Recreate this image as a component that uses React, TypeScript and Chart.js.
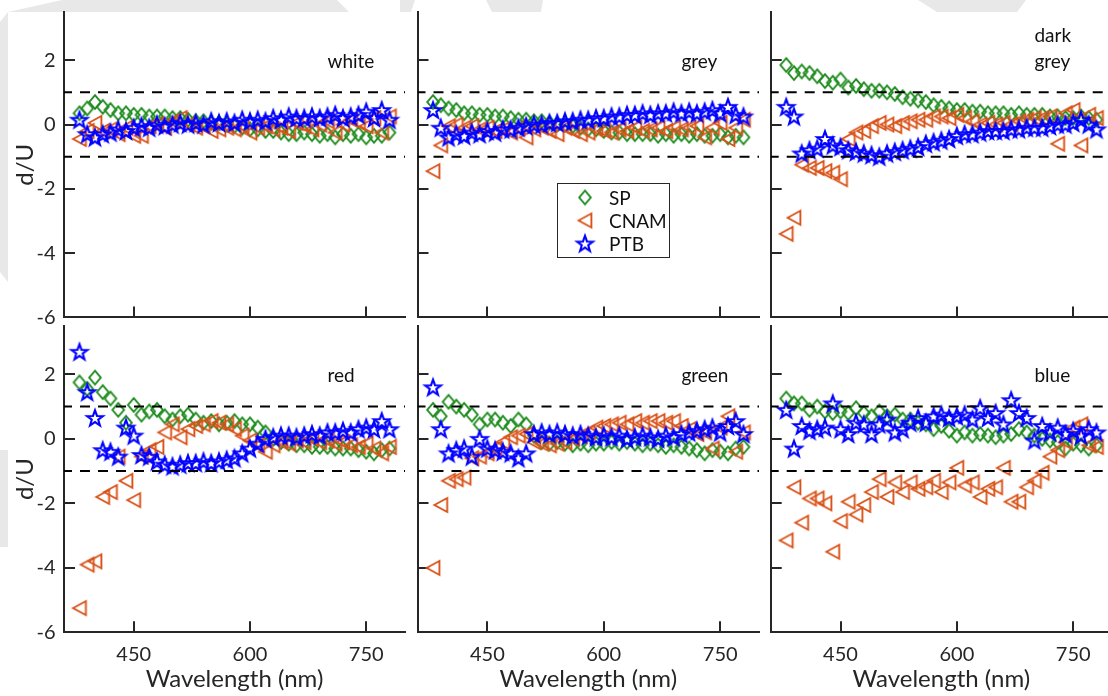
import React, { useEffect, useRef } from 'react';
import { Chart, registerables } from 'chart.js';

Chart.register(...registerables);

// ---------- data ----------
const wavelengths = [
  380, 390, 400, 410, 420, 430, 440, 450, 460, 470,
  480, 490, 500, 510, 520, 530, 540, 550, 560, 570,
  580, 590, 600, 610, 620, 630, 640, 650, 660, 670,
  680, 690, 700, 710, 720, 730, 740, 750, 760, 770,
  780,
];

const panelNames = [['white'], ['grey'], ['dark', 'grey'], ['red'], ['green'], ['blue']];
const seriesNames = ['SP', 'CNAM', 'PTB'];
const seriesColors = ['#1E8C1E', '#D95319', '#0000FF'];

const whiteSP = [0.35, 0.5, 0.7, 0.55, 0.45, 0.35, 0.35, 0.3, 0.3, 0.25, 0.25, 0.25, 0.2, 0.2, 0.15, 0.1, 0.1, 0.05, 0.05, 0.0, -0.05, -0.1, -0.15, -0.15, -0.2, -0.2, -0.25, -0.3, -0.3, -0.25, -0.3, -0.35, -0.3, -0.4, -0.3, -0.35, -0.3, -0.4, -0.35, -0.35, -0.25];
const whiteCNAM = [-0.45, -0.2, 0.05, -0.2, -0.15, -0.3, -0.1, -0.35, -0.35, -0.05, 0.0, -0.1, 0.1, 0.2, 0.0, -0.1, -0.05, -0.2, -0.15, -0.1, -0.15, -0.05, -0.25, -0.1, -0.05, -0.15, -0.1, -0.2, 0.05, -0.05, -0.15, 0.0, 0.1, -0.25, 0.0, 0.15, 0.05, -0.05, 0.2, -0.25, 0.25];
const whitePTB = [0.15, -0.3, -0.4, -0.3, -0.25, -0.15, -0.2, -0.1, -0.05, -0.1, 0.0, -0.05, 0.0, 0.05, 0.0, 0.05, 0.0, 0.1, 0.05, 0.1, 0.05, 0.15, 0.1, 0.15, 0.1, 0.2, 0.15, 0.25, 0.2, 0.2, 0.25, 0.2, 0.25, 0.3, 0.2, 0.25, 0.3, 0.4, 0.2, 0.45, 0.15];

const greySP = [0.7, 0.6, 0.5, 0.45, 0.35, 0.35, 0.3, 0.3, 0.25, 0.25, 0.2, 0.15, 0.15, 0.1, 0.1, 0.05, 0.0, 0.0, -0.05, -0.1, -0.15, -0.15, -0.2, -0.25, -0.25, -0.3, -0.3, -0.3, -0.3, -0.35, -0.3, -0.35, -0.3, -0.35, -0.3, -0.35, -0.35, -0.3, -0.4, -0.35, -0.4];
const greyCNAM = [-1.45, -0.65, -0.05, 0.0, -0.1, -0.05, -0.15, -0.1, -0.2, -0.15, -0.25, -0.1, -0.4, -0.15, -0.1, -0.2, -0.3, -0.1, -0.2, -0.3, -0.25, -0.15, -0.2, -0.25, -0.15, -0.2, -0.1, -0.2, -0.15, -0.1, -0.2, -0.1, -0.15, -0.1, -0.05, -0.4, -0.1, 0.05, -0.45, -0.1, 0.15];
const greyPTB = [0.45, -0.1, -0.4, -0.3, -0.35, -0.25, -0.3, -0.2, -0.25, -0.15, -0.15, -0.1, -0.05, 0.0, 0.0, 0.05, 0.05, 0.1, 0.1, 0.15, 0.15, 0.2, 0.2, 0.25, 0.25, 0.3, 0.3, 0.35, 0.3, 0.35, 0.35, 0.4, 0.35, 0.4, 0.35, 0.4, 0.45, 0.35, 0.55, 0.3, 0.25];

const darkGreySP = [1.85, 1.6, 1.65, 1.6, 1.5, 1.35, 1.3, 1.4, 1.15, 1.2, 1.1, 1.05, 1.05, 1.0, 0.95, 0.85, 0.8, 0.75, 0.7, 0.6, 0.55, 0.5, 0.45, 0.45, 0.4, 0.4, 0.35, 0.35, 0.35, 0.3, 0.35, 0.3, 0.3, 0.3, 0.25, 0.25, 0.2, 0.2, 0.25, 0.2, 0.15];
const darkGreyCNAM = [-3.4, -2.9, -1.25, -1.35, -1.35, -1.45, -1.5, -1.7, -0.45, -0.25, -0.2, -0.05, 0.05, 0.0, -0.05, 0.05, 0.1, 0.15, 0.15, 0.25, 0.25, 0.2, 0.3, 0.2, 0.1, 0.0, 0.05, 0.0, 0.05, 0.0, 0.1, 0.15, 0.2, 0.2, 0.25, -0.6, 0.35, 0.45, -0.65, 0.3, 0.2];
const darkGreyPTB = [0.55, 0.25, -0.9, -0.8, -0.75, -0.45, -0.65, -0.7, -0.8, -0.85, -0.9, -0.95, -1.0, -0.9, -0.85, -0.8, -0.75, -0.7, -0.6, -0.55, -0.5, -0.45, -0.35, -0.3, -0.3, -0.25, -0.2, -0.2, -0.2, -0.15, -0.15, -0.1, -0.1, -0.1, -0.05, 0.0, 0.0, 0.05, 0.15, 0.0, -0.15];

const redSP = [1.75, 1.55, 1.9, 1.45, 1.25, 0.9, 0.5, 1.05, 0.75, 0.85, 0.9, 0.7, 0.6, 0.7, 0.75, 0.6, 0.5, 0.55, 0.45, 0.5, 0.55, 0.45, 0.45, 0.35, 0.2, 0.0, -0.1, -0.15, -0.2, -0.2, -0.25, -0.25, -0.25, -0.3, -0.3, -0.3, -0.35, -0.4, -0.45, -0.35, -0.3];
const redCNAM = [-5.25, -3.9, -3.8, -1.8, -1.65, -0.55, -1.3, -1.9, -0.55, -0.35, -0.25, 0.2, 0.45, 0.05, 0.3, 0.4, 0.45, 0.55, 0.5, 0.45, 0.3, 0.1, -0.05, -0.2, -0.4, -0.2, -0.1, -0.15, -0.05, -0.1, 0.0, -0.1, -0.05, -0.15, -0.1, -0.2, -0.25, -0.15, -0.3, -0.45, -0.25];
const redPTB = [2.7, 1.45, 0.65, -0.35, -0.4, -0.55, 0.35, 0.1, -0.5, -0.55, -0.7, -0.8, -0.85, -0.8, -0.75, -0.75, -0.7, -0.75, -0.7, -0.65, -0.6, -0.45, -0.3, -0.15, 0.0, 0.05, 0.1, 0.1, 0.05, 0.1, 0.15, 0.1, 0.2, 0.2, 0.25, 0.2, 0.3, 0.35, 0.3, 0.55, 0.3];

const greenSP = [0.9, 0.7, 1.15, 1.0, 0.9, 0.75, 0.45, 0.6, 0.6, 0.5, 0.4, 0.6, 0.45, 0.1, -0.1, -0.15, -0.1, -0.15, -0.2, -0.15, -0.2, -0.15, -0.15, -0.1, -0.15, -0.1, -0.15, -0.2, -0.15, -0.2, -0.25, -0.2, -0.25, -0.3, -0.35, -0.45, -0.35, -0.4, -0.45, -0.3, -0.25];
const greenCNAM = [-4.0, -2.05, -1.3, -1.25, -1.2, -0.6, -0.55, -0.45, -0.3, -0.1, 0.05, 0.1, 0.15, -0.1, -0.15, -0.2, -0.15, -0.1, 0.0, 0.1, 0.2, 0.35, 0.4, 0.45, 0.5, 0.45, 0.55, 0.5, 0.55, 0.55, 0.5, 0.55, 0.4, 0.3, 0.15, 0.2, -0.3, 0.35, 0.7, -0.4, 0.2];
const greenPTB = [1.6, 0.3, -0.45, -0.35, -0.3, -0.55, 0.0, -0.3, -0.35, -0.4, -0.45, -0.6, -0.45, 0.15, 0.2, 0.15, 0.2, 0.15, 0.1, 0.15, 0.1, 0.05, 0.1, 0.05, 0.1, 0.0, 0.05, 0.1, 0.05, 0.0, 0.1, 0.05, 0.15, 0.2, 0.25, 0.3, 0.35, 0.2, 0.4, 0.55, 0.15];

const blueSP = [1.25, 1.1, 1.1, 0.9, 1.0, 0.85, 0.8, 0.85, 0.8, 0.95, 0.8, 0.7, 0.85, 0.7, 0.75, 0.6, 0.6, 0.5, 0.45, 0.3, 0.4, 0.25, 0.1, 0.2, 0.1, 0.15, 0.1, 0.05, 0.1, 0.15, 0.3, 0.2, 0.1, 0.0, -0.05, -0.1, -0.3, -0.15, -0.2, -0.3, -0.2];
const blueCNAM = [-3.15, -1.5, -2.6, -1.85, -1.85, -2.0, -3.5, -2.55, -1.95, -2.35, -2.05, -1.65, -1.25, -1.8, -1.35, -1.65, -1.35, -1.55, -1.5, -1.3, -1.65, -1.35, -0.9, -1.45, -1.35, -1.8, -1.55, -1.5, -0.9, -1.95, -1.95, -1.5, -1.3, -1.05, -0.55, -0.35, -0.1, 0.35, 0.45, -0.2, -0.25];
const bluePTB = [0.9, -0.3, 0.4, 0.25, 0.3, 0.35, 1.1, 0.3, 0.15, 0.5, 0.45, 0.15, 0.45, 0.6, 0.2, 0.3, 0.5, 0.65, 0.5, 0.7, 0.75, 0.65, 0.7, 0.75, 0.6, 0.95, 0.65, 0.8, 0.45, 1.2, 0.8, 0.65, -0.05, 0.4, 0.2, 0.35, 0.15, 0.25, 0.1, 0.3, 0.2];

const spValues = [whiteSP, greySP, darkGreySP, redSP, greenSP, blueSP];
const cnamValues = [whiteCNAM, greyCNAM, darkGreyCNAM, redCNAM, greenCNAM, blueCNAM];
const ptbValues = [whitePTB, greyPTB, darkGreyPTB, redPTB, greenPTB, bluePTB];

const limitX = [360, 800];
const upperLimit = [1, 1];
const lowerLimit = [-1, -1];
const xRange = [360, 800];
const yRange = [-6, 3.5];
const xTickValues = [450, 600, 750];
const yTickValues = [-6, -4, -2, 0, 2];
const labelPos = { x: 700, y: 1.95 };

// ---------- layout / style ----------
const AXIS = '#262626';
const FONT = 'Lato, "Open Sans", sans-serif';
const COL_LEFT = [64, 417.5, 770.7];
const AREA_W = 341.7;
const ROW_TOP = [11.7, 325.2];
const ROW_BOTTOM = [317.4, 632.3];
const YW = 64;
const XH = [16, 64];
const PAD = 8;
const WATERMARK = '#e8e8e8';
const watermarkShapes = [
  '62,0 337,0 349,12 8,12',
  '0,22 8,12 8,282 0,272',
  '0,450 8,450 8,547 0,547',
  '400,0 415,0 411,12 400,12',
  '486,0 543,0 541,12 492,12',
  '918,0 1026,0 1017,12 937,12',
];

function makeMarker(kind: string, color: string): HTMLCanvasElement {
  const size = 26;
  const c = document.createElement('canvas');
  c.width = size;
  c.height = size;
  const ctx = c.getContext('2d') as CanvasRenderingContext2D;
  ctx.strokeStyle = color;
  ctx.lineJoin = 'miter';
  const cx = size / 2;
  const cy = size / 2;
  ctx.beginPath();
  if (kind === 'diamond') {
    ctx.lineWidth = 1.9;
    ctx.moveTo(cx, cy - 6.8);
    ctx.lineTo(cx + 5.8, cy);
    ctx.lineTo(cx, cy + 6.8);
    ctx.lineTo(cx - 5.8, cy);
  } else if (kind === 'triangle') {
    ctx.lineWidth = 1.9;
    ctx.moveTo(cx - 6.4, cy);
    ctx.lineTo(cx + 6.4, cy - 7);
    ctx.lineTo(cx + 6.4, cy + 7);
  } else {
    ctx.lineWidth = 2.1;
    for (let k = 0; k < 10; k++) {
      const r = k % 2 === 0 ? 8.4 : 3.4;
      const a = -Math.PI / 2 + (k * Math.PI) / 5;
      const px = cx + r * Math.cos(a);
      const py = cy + 0.7 + r * Math.sin(a);
      if (k === 0) ctx.moveTo(px, py);
      else ctx.lineTo(px, py);
    }
  }
  ctx.closePath();
  ctx.stroke();
  return c;
}

const panelLabelPlugin = {
  id: 'panelLabel',
  afterDatasetsDraw(chart: any, _args: any, opts: any) {
    const lines: string[] = opts.lines || [];
    const { ctx } = chart;
    const x = chart.scales.x.getPixelForValue(labelPos.x);
    const y = chart.scales.y.getPixelForValue(labelPos.y);
    ctx.save();
    ctx.font = `19px ${FONT}`;
    ctx.fillStyle = '#111111';
    ctx.textAlign = 'left';
    ctx.textBaseline = 'middle';
    lines.forEach((t, i) => {
      ctx.fillText(t, x, y - (lines.length - 1 - i) * 26);
    });
    ctx.restore();
  },
};

const legendPlugin = {
  id: 'boxLegend',
  afterDraw(chart: any, _args: any, opts: any) {
    if (!opts.show) return;
    const { ctx, chartArea } = chart;
    const left = chartArea.left + 139.5;
    const top = chartArea.top + 170.5;
    const w = 112;
    const h = 74;
    ctx.save();
    ctx.fillStyle = '#ffffff';
    ctx.fillRect(left, top, w, h);
    ctx.strokeStyle = AXIS;
    ctx.lineWidth = 1;
    ctx.strokeRect(Math.round(left) + 0.5, Math.round(top) + 0.5, w, h);
    ctx.font = `19px ${FONT}`;
    ctx.fillStyle = '#111111';
    ctx.textAlign = 'left';
    ctx.textBaseline = 'middle';
    const markers: HTMLCanvasElement[] = opts.markers;
    seriesNames.forEach((name, i) => {
      const yy = top + 15 + i * 23;
      const m = markers[i];
      ctx.drawImage(m, left + 28 - m.width / 2, yy - m.height / 2);
      ctx.fillText(name, left + 52, yy + 1);
    });
    ctx.restore();
  },
};

function Panel({ index }: { index: number }) {
  const ref = useRef<HTMLCanvasElement>(null);
  const row = Math.floor(index / 3);
  const col = index % 3;
  const areaL = COL_LEFT[col];
  const areaR = areaL + AREA_W;
  const areaT = ROW_TOP[row];
  const areaB = ROW_BOTTOM[row];
  const cl = Math.floor(areaL - YW);
  const ct = Math.floor(areaT - PAD);
  const cw = Math.ceil(areaR + PAD) - cl;
  const ch = Math.ceil(areaB + XH[row]) - ct;
  const pad = {
    left: areaL - YW - cl,
    top: areaT - ct,
    right: cl + cw - areaR,
    bottom: ct + ch - (areaB + XH[row]),
  };

  useEffect(() => {
    const markers = [
      makeMarker('diamond', seriesColors[0]),
      makeMarker('triangle', seriesColors[1]),
      makeMarker('star', seriesColors[2]),
    ];
    const seriesData = [spValues[index], cnamValues[index], ptbValues[index]];
    const pointSets = seriesData.map((vals, s) => ({
      label: seriesNames[s],
      data: wavelengths.map((w, i) => ({ x: w, y: vals[i] })),
      pointStyle: markers[s],
      pointRadius: 8,
      borderColor: seriesColors[s],
      backgroundColor: 'transparent',
      showLine: false,
      order: 3 - s,
    }));
    const limitSet = (vals: number[]) => ({
      label: 'limit',
      data: limitX.map((x, i) => ({ x, y: vals[i] })),
      showLine: true,
      borderColor: '#000000',
      borderWidth: 2,
      borderDash: [10, 8],
      borderDashOffset: 2,
      pointRadius: 0,
      fill: false,
      order: 0,
    });
    const tickFont = { family: FONT, size: 20 };
    const chart = new Chart(ref.current as HTMLCanvasElement, {
      type: 'scatter',
      data: { datasets: [limitSet(upperLimit), limitSet(lowerLimit), ...pointSets] as any },
      options: {
        animation: false,
        responsive: false,
        maintainAspectRatio: false,
        events: [],
        layout: { padding: pad },
        plugins: {
          legend: { display: false },
          tooltip: { enabled: false },
          panelLabel: { lines: panelNames[index] },
          boxLegend: { show: index === 1, markers },
        } as any,
        scales: {
          x: {
            type: 'linear',
            position: 'bottom',
            min: xRange[0],
            max: xRange[1],
            afterBuildTicks: (s: any) => {
              s.ticks = xTickValues.map((v) => ({ value: v }));
            },
            afterFit: (s: any) => {
              s.height = XH[row];
              s.paddingLeft = 0;
              s.paddingRight = 0;
              s.paddingTop = 0;
              s.paddingBottom = 0;
            },
            grid: {
              display: true,
              drawOnChartArea: false,
              drawTicks: true,
              tickLength: -11,
              color: AXIS,
              lineWidth: 2,
            },
            border: { display: true, color: AXIS, width: 2 },
            ticks: {
              display: row === 1,
              padding: 21,
              color: AXIS,
              font: tickFont,
              maxRotation: 0,
              callback: (v: any) => String(v),
            },
            title: {
              display: row === 1,
              text: 'Wavelength (nm)',
              color: AXIS,
              font: { family: FONT, size: 24 },
              padding: { top: 0, bottom: 2.5 },
            },
          },
          y: {
            type: 'linear',
            position: 'left',
            min: yRange[0],
            max: yRange[1],
            afterBuildTicks: (s: any) => {
              s.ticks = yTickValues.map((v) => ({ value: v }));
            },
            afterFit: (s: any) => {
              s.width = YW;
              s.paddingLeft = 0;
              s.paddingRight = 0;
              s.paddingTop = 0;
              s.paddingBottom = 0;
            },
            grid: {
              display: true,
              drawOnChartArea: false,
              drawTicks: true,
              tickLength: -11,
              color: AXIS,
              lineWidth: 2,
            },
            border: { display: true, color: AXIS, width: 2 },
            ticks: {
              display: col === 0,
              padding: 19.5,
              color: AXIS,
              font: tickFont,
              callback: (v: any) => String(v),
            },
            title: {
              display: col === 0,
              text: 'd/U',
              color: AXIS,
              font: { family: FONT, size: 24 },
              padding: { top: 11, bottom: 0 },
            },
          },
        },
      } as any,
      plugins: [panelLabelPlugin, legendPlugin],
    });
    return () => chart.destroy();
  }, []);

  return (
    <canvas
      ref={ref}
      width={cw}
      height={ch}
      style={{ position: 'absolute', left: cl, top: ct, width: cw, height: ch }}
    />
  );
}

export default function App() {
  return (
    <div
      style={{
        position: 'absolute',
        left: 0,
        top: 0,
        width: 1108,
        height: 696,
        overflow: 'hidden',
        background: '#ffffff',
      }}
    >
      <svg
        width={1108}
        height={696}
        style={{ position: 'absolute', left: 0, top: 0 }}
      >
        {watermarkShapes.map((pts, i) => (
          <polygon key={i} points={pts} fill={WATERMARK} />
        ))}
      </svg>
      {panelNames.map((_, i) => (
        <Panel key={i} index={i} />
      ))}
    </div>
  );
}
